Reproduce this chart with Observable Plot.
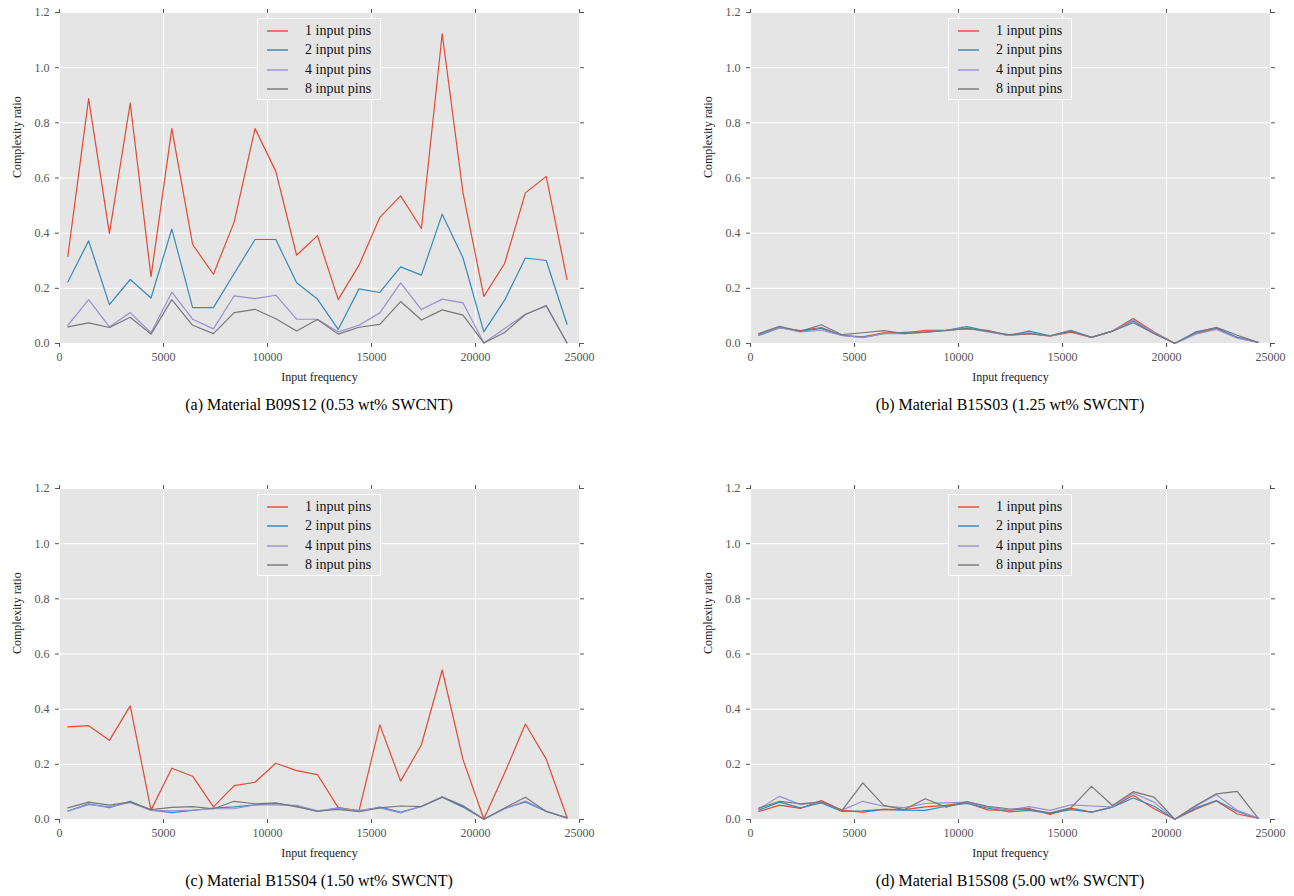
<!DOCTYPE html>
<html><head><meta charset="utf-8">
<script src="https://cdn.jsdelivr.net/npm/d3@7"></script>
<script src="https://cdn.jsdelivr.net/npm/@observablehq/plot@0.6"></script>
<style>
body{margin:0;background:#fff;width:1294px;height:896px;position:relative;overflow:hidden;font-family:"Liberation Serif","Times New Roman",serif}
.panel{position:absolute;width:600px;height:420px}
.panel svg{position:absolute;left:0;top:0}
.caption{position:absolute;left:59px;width:520px;top:396px;text-align:center;font-size:16px;color:#000;white-space:nowrap}
.legend{position:absolute;left:257px;top:18px;width:122px;height:80px;background:#E5E5E5;border:1px solid #fff}
.legend .row{position:absolute;left:0;height:18px;font-size:14px;line-height:18px;color:#111;white-space:nowrap}
.legend svg.sw{position:absolute;left:9px;top:6px;width:22px;height:6px;overflow:visible}
.legend .lb{position:absolute;left:47px;top:0}
</style></head>
<body>
<script>
const freq = [400,1400,2400,3400,4400,5400,6400,7400,8400,9400,10400,11400,12400,13400,14400,15400,16400,17400,18400,19400,20400,21400,22400,23400,24400];
const pinNames = ["1 input pins","2 input pins","4 input pins","8 input pins"];
const pinColors = ["#E24A33","#348ABD","#988ED5","#777777"];
const xTicks = [0,5000,10000,15000,20000,25000];
const yTicks = [0,0.2,0.4,0.6,0.8,1.0,1.2];
const captions = [
  "(a) Material B09S12 (0.53 wt% SWCNT)",
  "(b) Material B15S03 (1.25 wt% SWCNT)",
  "(c) Material B15S04 (1.50 wt% SWCNT)",
  "(d) Material B15S08 (5.00 wt% SWCNT)"
];

// (a) B09S12
const a_1 = [0.316,0.888,0.399,0.872,0.242,0.779,0.359,0.251,0.441,0.779,0.624,0.320,0.391,0.159,0.284,0.457,0.535,0.417,1.123,0.546,0.171,0.290,0.546,0.606,0.232];
const a_2 = [0.223,0.372,0.141,0.232,0.165,0.415,0.130,0.130,0.254,0.377,0.377,0.220,0.161,0.051,0.198,0.185,0.278,0.248,0.469,0.310,0.042,0.157,0.310,0.301,0.070];
const a_4 = [0.066,0.159,0.060,0.112,0.039,0.186,0.088,0.053,0.173,0.163,0.175,0.088,0.088,0.042,0.066,0.111,0.220,0.123,0.161,0.147,0.002,0.054,0.106,0.135,0.003];
const a_8 = [0.060,0.075,0.058,0.095,0.034,0.159,0.066,0.036,0.112,0.124,0.090,0.045,0.087,0.034,0.059,0.069,0.152,0.085,0.122,0.103,0.002,0.040,0.105,0.138,0.002];
// (b) B15S03
const b_1 = [0.034,0.058,0.047,0.058,0.030,0.024,0.039,0.038,0.048,0.048,0.053,0.048,0.029,0.036,0.027,0.041,0.022,0.045,0.091,0.042,0.001,0.036,0.055,0.022,0.004];
const b_2 = [0.029,0.057,0.044,0.055,0.029,0.022,0.036,0.040,0.042,0.048,0.061,0.045,0.029,0.045,0.028,0.048,0.022,0.045,0.082,0.036,0.000,0.042,0.057,0.022,0.004];
const b_4 = [0.032,0.058,0.042,0.048,0.029,0.021,0.036,0.036,0.040,0.048,0.056,0.042,0.029,0.039,0.027,0.045,0.022,0.045,0.085,0.040,0.000,0.034,0.051,0.019,0.004];
const b_8 = [0.036,0.062,0.044,0.068,0.032,0.039,0.047,0.036,0.041,0.047,0.055,0.045,0.032,0.036,0.028,0.045,0.022,0.045,0.075,0.036,0.001,0.039,0.059,0.030,0.004];
// (c) B15S04
const c_1 = [0.336,0.340,0.287,0.412,0.034,0.186,0.157,0.046,0.123,0.135,0.204,0.177,0.163,0.043,0.031,0.343,0.139,0.271,0.542,0.217,0.002,0.169,0.346,0.219,0.007];
const c_2 = [0.031,0.057,0.043,0.066,0.034,0.025,0.033,0.041,0.046,0.053,0.058,0.048,0.029,0.042,0.030,0.045,0.027,0.047,0.081,0.045,0.001,0.040,0.064,0.029,0.006];
const c_4 = [0.030,0.054,0.046,0.062,0.033,0.031,0.034,0.039,0.039,0.053,0.053,0.051,0.031,0.040,0.033,0.042,0.024,0.048,0.082,0.051,0.001,0.039,0.067,0.031,0.006];
const c_8 = [0.042,0.063,0.052,0.063,0.036,0.044,0.047,0.039,0.066,0.057,0.060,0.046,0.030,0.037,0.028,0.042,0.049,0.047,0.081,0.049,0.001,0.042,0.081,0.029,0.006];
// (d) B15S08
const d_1 = [0.029,0.052,0.040,0.069,0.033,0.027,0.037,0.036,0.046,0.051,0.061,0.035,0.033,0.040,0.018,0.041,0.027,0.045,0.088,0.039,0.001,0.037,0.067,0.020,0.005];
const d_2 = [0.034,0.063,0.042,0.060,0.029,0.031,0.037,0.034,0.033,0.048,0.058,0.041,0.028,0.033,0.022,0.036,0.027,0.045,0.078,0.048,0.001,0.042,0.069,0.029,0.005];
const d_4 = [0.039,0.084,0.054,0.063,0.034,0.066,0.048,0.043,0.058,0.060,0.063,0.045,0.034,0.047,0.033,0.053,0.049,0.046,0.096,0.063,0.001,0.048,0.090,0.033,0.005];
const d_8 = [0.041,0.066,0.057,0.064,0.033,0.133,0.051,0.036,0.075,0.045,0.065,0.048,0.039,0.037,0.024,0.042,0.120,0.051,0.101,0.081,0.001,0.051,0.093,0.102,0.005];

const panels = [
  {series:[a_1,a_2,a_4,a_8], left:0,   top:0},
  {series:[b_1,b_2,b_4,b_8], left:691, top:0},
  {series:[c_1,c_2,c_4,c_8], left:0,   top:476},
  {series:[d_1,d_2,d_4,d_8], left:691, top:476}
];

const SVGNS = "http://www.w3.org/2000/svg";
panels.forEach((p, k) => {
  const data = [];
  p.series.forEach((vals, i) => vals.forEach((v, j) => data.push({x: freq[j], y: v, pins: pinNames[i]})));
  const chart = Plot.plot({
    width: 600, height: 388,
    marginLeft: 59, marginRight: 21, marginTop: 12, marginBottom: 45,
    style: {fontFamily: "'Liberation Serif', 'Times New Roman', serif", fontSize: "12px", background: "transparent", overflow: "visible"},
    x: {domain: [0, 25000]},
    y: {domain: [0, 1.2]},
    color: {domain: pinNames, range: pinColors},
    marks: [
      Plot.frame({fill: "#E5E5E5", stroke: null}),
      Plot.gridX({ticks: xTicks, stroke: "#fff", strokeOpacity: 1, strokeWidth: 1}),
      Plot.gridY({ticks: yTicks, stroke: "#fff", strokeOpacity: 1, strokeWidth: 1}),
      Plot.axisX({ticks: xTicks, tickFormat: d => String(d), tickSize: 4, tickPadding: 5, color: "#555", label: null}),
      Plot.axisX({anchor: "top", ticks: xTicks, tickFormat: () => "", tickSize: 4, color: "#555", label: null}),
      Plot.axisY({ticks: yTicks, tickFormat: d => d.toFixed(1), tickSize: 4, tickPadding: 6, color: "#555", label: null}),
      Plot.axisY({anchor: "right", ticks: yTicks, tickFormat: () => "", tickSize: 4, color: "#555", label: null}),
      Plot.line(data, {x: "x", y: "y", stroke: "pins", strokeWidth: 1.2}),
      Plot.text(["Input frequency"], {frameAnchor: "bottom", dy: 37, fill: "#222", fontSize: 12}),
      Plot.text(["Complexity ratio"], {frameAnchor: "left", dx: -42, rotate: -90, fill: "#222", fontSize: 12})
    ]
  });
  const div = document.createElement("div");
  div.className = "panel";
  div.style.left = p.left + "px";
  div.style.top = p.top + "px";
  div.appendChild(chart);
  const leg = document.createElement("div");
  leg.className = "legend";
  pinNames.forEach((n, i) => {
    const row = document.createElement("div");
    row.className = "row";
    row.style.top = Math.round(3 + i * 19.3) + "px";
    const sw = document.createElementNS(SVGNS, "svg");
    sw.setAttribute("class", "sw");
    const ln = document.createElementNS(SVGNS, "line");
    ln.setAttribute("x1", 0); ln.setAttribute("x2", 21);
    ln.setAttribute("y1", 3); ln.setAttribute("y2", 3);
    ln.setAttribute("stroke", pinColors[i]);
    ln.setAttribute("stroke-width", 1.4);
    sw.appendChild(ln);
    const lb = document.createElement("span");
    lb.className = "lb";
    lb.textContent = n;
    row.appendChild(sw); row.appendChild(lb);
    leg.appendChild(row);
  });
  div.appendChild(leg);
  const cap = document.createElement("div");
  cap.className = "caption";
  cap.textContent = captions[k];
  div.appendChild(cap);
  document.body.appendChild(div);
});
</script>
</body></html>
